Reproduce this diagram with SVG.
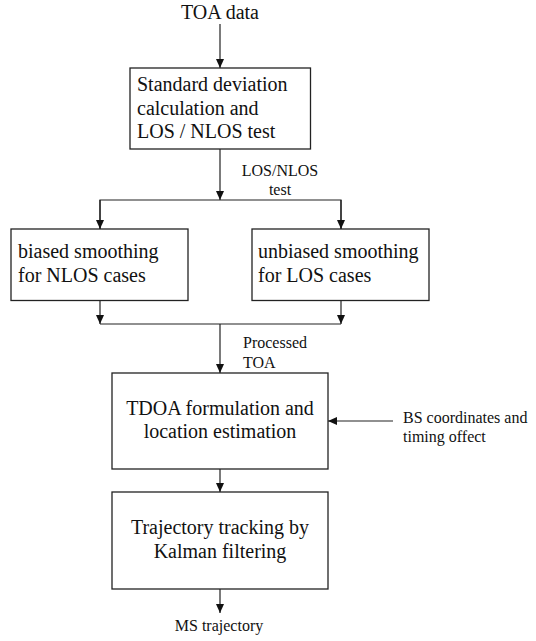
<svg xmlns="http://www.w3.org/2000/svg" width="536" height="641" viewBox="0 0 536 641">
  <style>
    .box { fill: #ffffff; stroke: #222222; stroke-width: 1.3; }
    .wire { fill: none; stroke: #222222; stroke-width: 1.2; }
    .t { font-family: "Liberation Serif", "Times New Roman", serif; fill: #111111; }
    .big { font-size: 20px; }
    .small { font-size: 16px; }
    .mid { text-anchor: middle; }
  </style>
  <defs>
    <marker id="arrow" markerUnits="userSpaceOnUse" markerWidth="9" markerHeight="8" refX="9" refY="4" orient="auto">
      <path d="M0,0 L9,4 L0,8 z" fill="#111111"/>
    </marker>
  </defs>
  <rect width="536" height="641" fill="#ffffff"/>

  <!-- connectors -->
  <g id="connectors">
    <line class="wire" x1="220" y1="24" x2="220" y2="68" marker-end="url(#arrow)"/>
    <line class="wire" x1="220" y1="149" x2="220" y2="200" marker-end="url(#arrow)"/>
    <polyline class="wire" points="100,229 100,200 341,200 341,229"/>
    <line class="wire" x1="100" y1="200" x2="100" y2="229" marker-end="url(#arrow)"/>
    <line class="wire" x1="341" y1="200" x2="341" y2="229" marker-end="url(#arrow)"/>
    <line class="wire" x1="100" y1="300" x2="100" y2="324" marker-end="url(#arrow)"/>
    <line class="wire" x1="341" y1="300" x2="341" y2="324" marker-end="url(#arrow)"/>
    <line class="wire" x1="100" y1="324" x2="341" y2="324"/>
    <line class="wire" x1="220" y1="324" x2="220" y2="373" marker-end="url(#arrow)"/>
    <line class="wire" x1="393" y1="421" x2="328" y2="421" marker-end="url(#arrow)"/>
    <line class="wire" x1="220" y1="469" x2="220" y2="492" marker-end="url(#arrow)"/>
    <line class="wire" x1="220" y1="589" x2="220" y2="613" marker-end="url(#arrow)"/>
  </g>

  <!-- edge labels -->
  <g id="labels">
    <text class="t big mid" x="220" y="19">TOA data</text>
    <text class="t small mid" x="280" y="176">LOS/NLOS</text>
    <text class="t small mid" x="280" y="195">test</text>
    <text class="t small" x="243" y="348">Processed</text>
    <text class="t small" x="243" y="368">TOA</text>
    <text class="t small" x="403" y="423">BS coordinates and</text>
    <text class="t small" x="403" y="442">timing offect</text>
    <text class="t small mid" x="219" y="631">MS trajectory</text>
  </g>

  <g id="std-test">
    <rect class="box" x="130" y="68" width="180.5" height="81"/>
    <text class="t big" x="137" y="91">Standard deviation</text>
    <text class="t big" x="137" y="115">calculation and</text>
    <text class="t big" x="137" y="138">LOS / NLOS test</text>
  </g>

  <g id="biased">
    <rect class="box" x="11" y="229" width="177" height="71.5"/>
    <text class="t big" x="18" y="258">biased smoothing</text>
    <text class="t big" x="18" y="282">for NLOS cases</text>
  </g>

  <g id="unbiased">
    <rect class="box" x="252" y="229" width="177" height="71.5"/>
    <text class="t big" x="258" y="258">unbiased smoothing</text>
    <text class="t big" x="258" y="282">for LOS cases</text>
  </g>

  <g id="tdoa">
    <rect class="box" x="112" y="373" width="216" height="96"/>
    <text class="t big mid" x="220" y="415">TDOA formulation and</text>
    <text class="t big mid" x="220" y="438">location estimation</text>
  </g>

  <g id="kalman">
    <rect class="box" x="112" y="492" width="216" height="97"/>
    <text class="t big mid" x="220" y="534">Trajectory tracking by</text>
    <text class="t big mid" x="220" y="558">Kalman filtering</text>
  </g>
</svg>
